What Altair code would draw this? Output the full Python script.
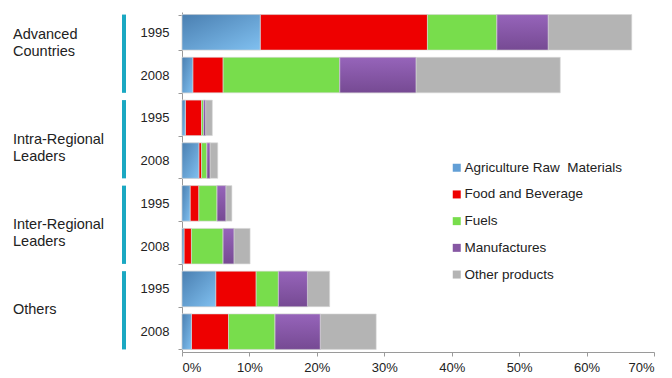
import altair as alt
import pandas as pd

groups = ["Advanced Countries", "Intra-Regional Leaders", "Inter-Regional Leaders", "Others"]
group_lines = ["Advanced\nCountries", "Intra-Regional\nLeaders", "Inter-Regional\nLeaders", "Others"]
years = ["1995", "2008"]
categories = ["Agriculture Raw \u00a0Materials", "Food and Beverage", "Fuels", "Manufactures", "Other products"]
colors = ["#629fd6", "#ee0000", "#78dd4c", "#8657a3", "#b4b4b4"]

# segment widths in percent, rows in order: group x year
agri  = [11.6, 1.6, 0.5, 2.5, 1.2, 0.3, 5.0, 1.4]
food  = [24.8, 4.5, 2.4, 0.4, 1.3, 1.1, 6.0, 5.5]
fuels = [10.3, 17.3, 0.3, 0.8, 2.7, 4.7, 3.3, 6.9]
manuf = [7.6, 11.3, 0.3, 0.45, 1.3, 1.6, 4.3, 6.7]
other = [12.4, 21.4, 1.0, 1.15, 0.9, 2.4, 3.3, 8.3]
x_ticks = [0, 0.1, 0.2, 0.3, 0.4, 0.5, 0.6, 0.7]

series = [agri, food, fuels, manuf, other]
rows = [f"{g}|{y}" for g in groups for y in years]

recs = []
for ci, (cat, vals) in enumerate(zip(categories, series)):
    for ri, r in enumerate(rows):
        recs.append({"row": r, "category": cat, "order": ci, "value": vals[ri] / 100})
df = pd.DataFrame(recs)

gdf = pd.DataFrame({
    "group": groups,
    "label": group_lines,
    "r1": [f"{g}|{years[0]}" for g in groups],
    "r2": [f"{g}|{years[1]}" for g in groups],
})

FONT = "Liberation Sans"
yscale = alt.Scale(domain=rows, paddingInner=0.17, paddingOuter=0.06)

bars = alt.Chart(df).mark_bar(stroke="#d8d8d8", strokeWidth=0.6).encode(
    x=alt.X("value:Q", stack="zero",
            scale=alt.Scale(domain=[0, 0.7], nice=False),
            axis=alt.Axis(values=x_ticks, format=".0%", title=None, grid=False,
                          domainColor="#9a9a9a", tickColor="#9a9a9a", tickSize=4,
                          labelFontSize=13, labelPadding=5, labelColor="#222", labelFont=FONT)),
    y=alt.Y("row:N", scale=yscale, sort=rows,
            axis=alt.Axis(title=None, labelExpr="split(datum.label, '|')[1]",
                          tickBand="extent", tickSize=4, tickColor="#9a9a9a",
                          domainColor="#9a9a9a", labelFontSize=13, labelPadding=9,
                          labelColor="#222", labelFont=FONT)),
    color=alt.Color("category:N", scale=alt.Scale(domain=categories, range=colors),
                    legend=alt.Legend(title=None, orient="none", legendX=268, legendY=149,
                                      symbolType="square", symbolSize=64, symbolStrokeWidth=0,
                                      labelFontSize=13.5, labelFont=FONT, labelColor="#222",
                                      rowPadding=11.7, labelOffset=1, labelLimit=300)),
    order=alt.Order("order:Q", sort="ascending"),
)


def gradient_overlay(cat, grad):
    return alt.Chart(df).transform_stack(
        stack="value", groupby=["row"], as_=["x0", "x1"],
        sort=[alt.SortField(field="order", order="ascending")],
    ).transform_filter(
        alt.FieldEqualPredicate(field="category", equal=cat)
    ).mark_bar(fill=grad, stroke="#d8d8d8", strokeWidth=0.6).encode(
        x=alt.X("x0:Q"), x2="x1:Q",
        y=alt.Y("row:N", scale=yscale, sort=rows),
    )


blue_grad = alt.Gradient(gradient="linear", x1=0, y1=0, x2=1, y2=1,
                         stops=[alt.GradientStop(offset=0, color="#4a7fb1"),
                                alt.GradientStop(offset=1, color="#80c0f0")])
purple_grad = alt.Gradient(gradient="linear", x1=0, y1=0, x2=0, y2=1,
                           stops=[alt.GradientStop(offset=0, color="#9664ba"),
                                  alt.GradientStop(offset=1, color="#764a93")])

rules = alt.Chart(gdf).mark_rule(color="#1aa8c2", strokeWidth=4).encode(
    x=alt.value(-58),
    y=alt.Y("r1:N", scale=yscale, bandPosition=0, sort=rows),
    y2=alt.Y2("r2:N", bandPosition=1),
)


def label_layer(names, dy):
    return alt.Chart(gdf).transform_filter(
        alt.FieldOneOfPredicate(field="group", oneOf=names)
    ).mark_text(align="left", baseline="middle", fontSize=14.5, lineHeight=17,
                lineBreak="\n", font=FONT, color="#222", dy=dy).encode(
        x=alt.value(-169),
        y=alt.Y("r1:N", scale=yscale, sort=rows),
        text="label:N",
    )


labels = alt.layer(
    label_layer(["Advanced Countries"], 3),
    label_layer(["Intra-Regional Leaders", "Inter-Regional Leaders"], 22),
    label_layer(["Others"], 21.5),
)

chart = alt.layer(
    bars,
    gradient_overlay(categories[0], blue_grad),
    gradient_overlay(categories[3], purple_grad),
    rules, labels,
).properties(
    width=472, height=340,
    padding={"left": 182, "top": 12, "right": 18, "bottom": 26},
    autosize=alt.AutoSizeParams(type="none"),
    background="white",
).configure_view(stroke=None)

chart.save("out.html", embed_options={"renderer": "svg", "actions": False})
